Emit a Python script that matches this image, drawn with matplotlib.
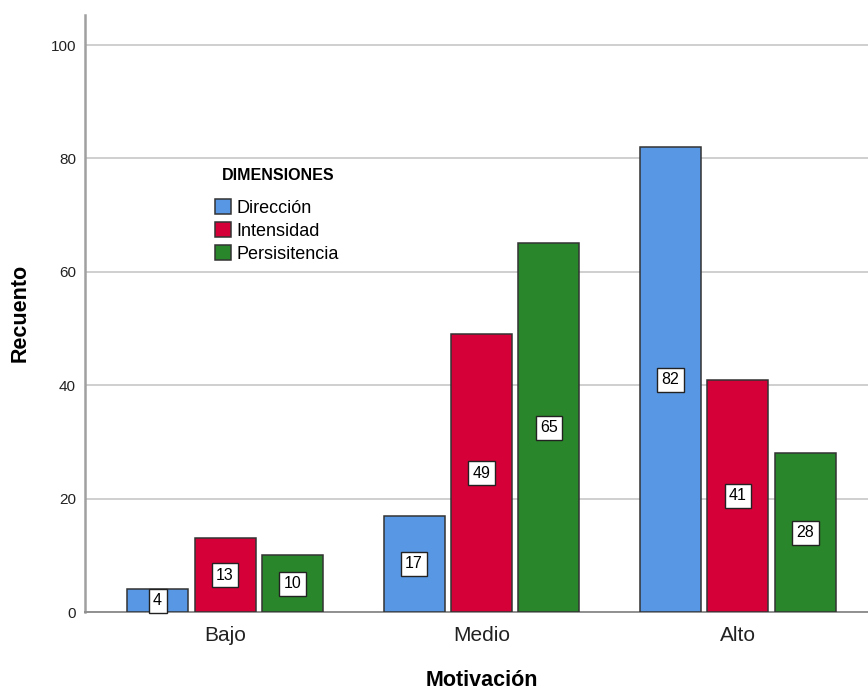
import matplotlib.pyplot as plt
import numpy as np

# Conteos por nivel de motivación y dimensión
niveles = ["Bajo", "Medio", "Alto"]
dimensiones = ["Dirección", "Intensidad", "Persisitencia"]
direccion = [4, 17, 82]
intensidad = [13, 49, 41]
persistencia = [10, 65, 28]
yticks = [0, 20, 40, 60, 80, 100]

colores = ["#5897E3", "#D50037", "#2A862A"]
series = [direccion, intensidad, persistencia]

plt.rcParams["font.family"] = ["Liberation Sans", "DejaVu Sans"]

fig = plt.figure(figsize=(8.68, 6.89), dpi=100)
ax = fig.add_axes([85 / 868, 77 / 689, 1 - 85 / 868, (612 - 15) / 689])

x = np.arange(len(niveles))
ancho = 0.238
paso = 0.263
for i, (valores, color, nombre) in enumerate(zip(series, colores, dimensiones)):
    pos = x + (i - 1) * paso
    ax.bar(pos, valores, width=ancho, color=color, edgecolor="#333333",
           linewidth=1.1, label=nombre, zorder=3)
    for xp, v in zip(pos, valores):
        ax.text(xp, v / 2, str(v), ha="center", va="center", fontsize=11.5,
                zorder=5, clip_on=False,
                bbox=dict(boxstyle="square,pad=0.28", facecolor="white",
                          edgecolor="#222222", linewidth=1))

ax.set_xlim(-0.546, 2.507)
ax.set_ylim(0, 105.3)
ax.set_yticks(yticks)
ax.set_yticklabels([str(t) for t in yticks], fontsize=11, color="#222222")
ax.set_xticks(x)
ax.set_xticklabels(niveles, fontsize=15, color="#222222")
ax.tick_params(axis="both", length=0)
ax.tick_params(axis="y", pad=6.5)
ax.tick_params(axis="x", pad=10)

ax.grid(axis="y", color="#CFCFCF", linewidth=1.4, zorder=0)
for lado in ["top", "right"]:
    ax.spines[lado].set_visible(False)
ax.spines["left"].set_color("#A0A0A0")
ax.spines["left"].set_linewidth(1.8)
ax.spines["bottom"].set_color("#909090")
ax.spines["bottom"].set_linewidth(1.4)

# Títulos de ejes
fig.text(482 / 868, 1 - 680 / 689, "Motivación", fontsize=15.5,
         fontweight="bold", ha="center", va="center")
fig.text(20 / 868, 1 - 313 / 689, "Recuento", fontsize=15.5,
         fontweight="bold", ha="center", va="center", rotation=90)

# Leyenda con título aparte
fig.text(222 / 868, 1 - 175 / 689, "DIMENSIONES", fontsize=11.5,
         fontweight="bold", ha="left", va="center",
         family=["Liberation Sans Narrow", "Liberation Sans"])
leg = ax.legend(loc="upper left", bbox_to_anchor=(215 / 868, 1 - 199 / 689),
                bbox_transform=fig.transFigure, frameon=False,
                fontsize=13, handlelength=0.9, handleheight=0.9,
                handletextpad=0.3, labelspacing=0.3,
                borderpad=0, borderaxespad=0)
for h in leg.legend_handles:
    h.set_edgecolor("#333333")

fig.savefig("out.png", dpi=100)
